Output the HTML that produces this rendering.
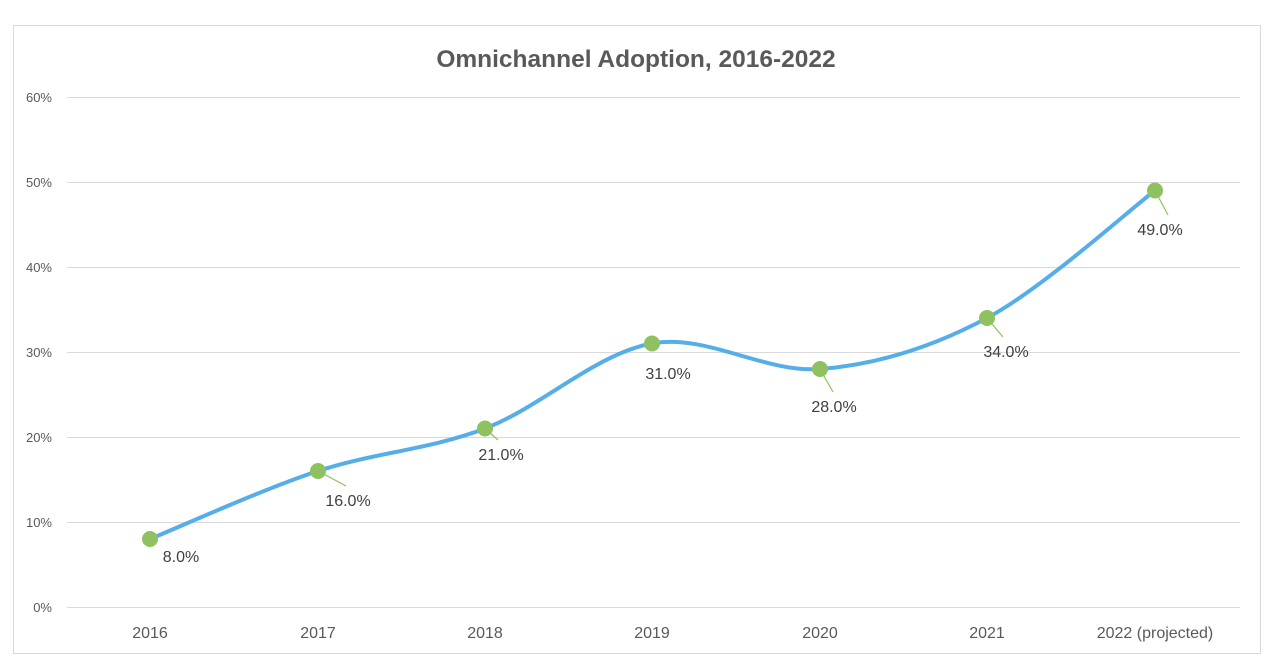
<!DOCTYPE html>
<html><head><meta charset="utf-8"><style>
body{margin:0;background:#fff;}
svg{display:block;font-family:"Liberation Sans",sans-serif;}
</style></head><body>
<svg width="1274" height="662" viewBox="0 0 1274 662">
<rect x="0" y="0" width="1274" height="662" fill="#fff"/>
<rect x="13.5" y="25.5" width="1247" height="628" fill="none" stroke="#d9d9d9" stroke-width="1"/>
<text x="636" y="67" text-anchor="middle" font-size="24.5" font-weight="bold" fill="#595959">Omnichannel Adoption, 2016-2022</text>
<g stroke="#d9d9d9" stroke-width="1">
<line x1="67" x2="1240" y1="97.5" y2="97.5"/>
<line x1="67" x2="1240" y1="182.5" y2="182.5"/>
<line x1="67" x2="1240" y1="267.5" y2="267.5"/>
<line x1="67" x2="1240" y1="352.5" y2="352.5"/>
<line x1="67" x2="1240" y1="437.5" y2="437.5"/>
<line x1="67" x2="1240" y1="522.5" y2="522.5"/>
<line x1="67" x2="1240" y1="607.5" y2="607.5"/>
</g>
<g font-size="13" fill="#595959" text-anchor="end">
<text x="52" y="102">60%</text>
<text x="52" y="187">50%</text>
<text x="52" y="272">40%</text>
<text x="52" y="357">30%</text>
<text x="52" y="442">20%</text>
<text x="52" y="527">10%</text>
<text x="52" y="612">0%</text>
</g>
<g font-size="16" fill="#595959" text-anchor="middle">
<text x="150" y="638">2016</text>
<text x="318" y="638">2017</text>
<text x="485" y="638">2018</text>
<text x="652" y="638">2019</text>
<text x="820" y="638">2020</text>
<text x="987" y="638">2021</text>
<text x="1155" y="638">2022 (projected)</text>
</g>
<path d="M150,539 C178,527.7 262.2,489.4 318,471 C373.8,452.6 429.3,449.75 485,428.5 C540.7,407.25 596.2,353.4 652,343.5 C707.8,333.6 764.2,373.25 820,369 C875.8,364.75 931.2,347.75 987,318 C1042.8,288.25 1127,211.75 1155,190.5" fill="none" stroke="#56aee8" stroke-width="4" stroke-linecap="round"/>
<g stroke="#8fc160" stroke-width="1.2">
<line x1="318" y1="471" x2="346" y2="486"/>
<line x1="485" y1="428.5" x2="498" y2="440"/>
<line x1="820" y1="369" x2="833" y2="392"/>
<line x1="987" y1="318" x2="1003" y2="337"/>
<line x1="1155" y1="190.5" x2="1168" y2="215"/>
</g>
<g fill="#8fc160">
<circle cx="150" cy="539" r="8"/>
<circle cx="318" cy="471" r="8"/>
<circle cx="485" cy="428.5" r="8"/>
<circle cx="652" cy="343.5" r="8"/>
<circle cx="820" cy="369" r="8"/>
<circle cx="987" cy="318" r="8"/>
<circle cx="1155" cy="190.5" r="8"/>
</g>
<g font-size="16" fill="#404040" text-anchor="middle">
<text x="181" y="562">8.0%</text>
<text x="348" y="506">16.0%</text>
<text x="501" y="460">21.0%</text>
<text x="668" y="379">31.0%</text>
<text x="834" y="412">28.0%</text>
<text x="1006" y="357">34.0%</text>
<text x="1160" y="235">49.0%</text>
</g>
</svg>
</body></html>
